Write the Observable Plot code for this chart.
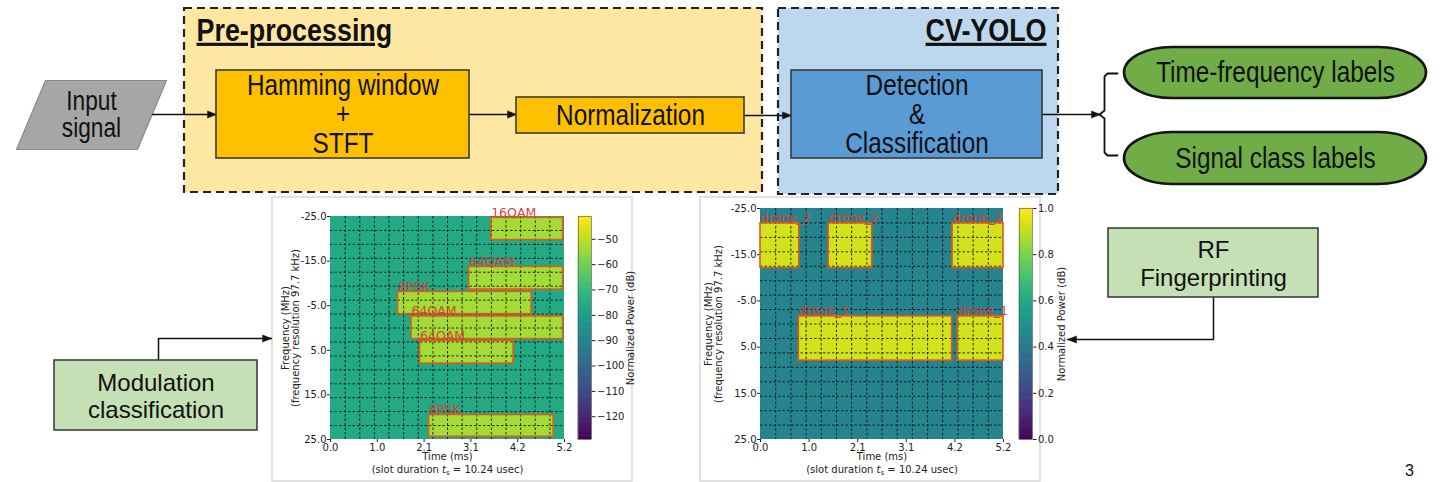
<!DOCTYPE html>
<html><head><meta charset="utf-8">
<script src="https://cdn.jsdelivr.net/npm/d3@7"></script>
<script src="https://cdn.jsdelivr.net/npm/@observablehq/plot@0.6"></script>
<style>
html,body{margin:0;padding:0;background:#fff;}
#root{position:relative;width:1440px;height:482px;overflow:hidden;background:#fff;}
#root>svg{position:absolute;}
</style></head><body><div id="root"></div>
<script>
// ================= DATA =================
// Block diagram text
const groupTitles = ["Pre-processing", "CV-YOLO"];
const inputLines = "Input\nsignal";
const stageNames = ["Hamming window\n+\nSTFT", "Normalization", "Detection\n&\nClassification"];
const outputNames = ["Time-frequency labels", "Signal class labels"];
const taskNames = ["Modulation\nclassification", "RF\nFingerprinting"];
const pageNumber = ["3"];

// Spectrogram axes (both panels)
const timeTickValues = [0, 1.04, 2.08, 3.12, 4.16, 5.2];
const timeTickLabels = ["0.0", "1.0", "2.1", "3.1", "4.2", "5.2"];
const freqTickValues = [-25, -15, -5, 5, 15, 25];
const freqTickLabels = ["-25.0", "-15.0", "-5.0", "5.0", "15.0", "25.0"];

// Left panel: modulation classification (dB)
const modLabels = ["16QAM", "64QAM", "8PSK", "64QAM", "64QAM", "8PSK"];
const modT0 = [3.57, 3.08, 1.50, 1.80, 1.99, 2.19];
const modT1 = [5.17, 5.17, 4.47, 5.17, 4.07, 4.96];
const modF0 = [-24.7, -13.7, -8.1, -2.6, 2.9, 19.5];
const modF1 = [-19.7, -8.6, -3.1, 2.5, 8.0, 24.4];
const modPowerDb = [-53, -53, -53, -53, -53, -53];
const modNoiseDb = [-76];
const modColorDomain = [-129, -41];
const modColorTicks = [-50, -60, -70, -80, -90, -100, -110, -120];

// Right panel: RF fingerprinting (normalized)
const droneLabels = ["drone_2", "drone_2", "drone_2", "drone_1", "drone_1"];
const droneT0 = [0.0, 1.46, 4.11, 0.82, 4.22];
const droneT1 = [0.83, 2.39, 5.2, 4.10, 5.2];
const droneF0 = [-21.8, -21.8, -21.8, -1.65, -1.65];
const droneF1 = [-12.1, -12.1, -12.1, 7.93, 7.93];
const dronePower = [0.93, 0.93, 0.93, 0.93, 0.93];
const droneNoise = [0.45];
const droneColorDomain = [0, 1];
const droneColorTicks = [0, 0.2, 0.4, 0.6, 0.8, 1.0];

// ================= LAYOUT (page pixels) =================
const root = document.getElementById("root");
function hasFont(name) {
  const c = document.createElement("canvas").getContext("2d");
  const s = "Hamming window mmmWWiil";
  c.font = "40px monospace"; const a = c.measureText(s).width;
  c.font = `40px '${name}', monospace`; return c.measureText(s).width !== a;
}
const narrow = hasFont("Liberation Sans Narrow");
const diagFont = narrow ? "Liberation Sans Narrow" : "Liberation Sans";
const squeeze = narrow ? 1 : 0.84;   // emulate a condensed face when Narrow is missing
const fsMain = 29;
const fsTitle = 32;

const groupGeom = [
  {x1: 184, x2: 762, y1: 8, y2: 192, fill: "#fee7a3"},
  {x1: 778, x2: 1058, y1: 8, y2: 194, fill: "#bdd7ee"}
];
const stageGeom = [
  {x1: 216, x2: 469, y1: 70, y2: 158, fill: "#ffc000"},
  {x1: 516, x2: 744, y1: 97, y2: 133, fill: "#ffc000"},
  {x1: 791, x2: 1042, y1: 70, y2: 158, fill: "#5b9bd5"}
];
const outputGeom = [
  {x1: 1124, x2: 1426, y1: 47, y2: 98},
  {x1: 1124, x2: 1426, y1: 132, y2: 184}
];
const taskGeom = [
  {x1: 54, x2: 257, y1: 360, y2: 430},
  {x1: 1108, x2: 1318, y1: 228, y2: 297}
];
const panelGeom = [
  {x1: 272, x2: 632, y1: 197, y2: 481},
  {x1: 700, x2: 1040, y1: 197, y2: 481}
];
const parallelogram = [[45, 80], [166, 80], [137, 149], [16, 149], [45, 80]].map(([x, y]) => ({x, y}));
const connectors = [
  [[152, 114], [216, 114]],
  [[469, 114], [516, 114]],
  [[744, 115], [791, 115]],
  [[1042, 114], [1100, 114]],
  [[158, 360], [158, 338], [271, 338]],
  [[1213, 297], [1213, 339], [1067, 339]]
];
const braceGeom = [[1117, 73], [1107, 73], [1104, 76], [1104, 110], [1099, 114], [1104, 118], [1104, 152], [1107, 155], [1117, 155]];

const connPts = connectors.flatMap((c, i) => c.map(([x, y]) => ({x, y, id: i})));
const heads = connectors.flatMap((c, i) => {
  const [px, py] = c[c.length - 2], [tx, ty] = c[c.length - 1];
  const len = Math.hypot(tx - px, ty - py), ux = (tx - px) / len, uy = (ty - py) / len;
  const L = 9, W = 3.6;
  const bx = tx - ux * L, by = ty - uy * L;
  return [[tx, ty], [bx - uy * W, by + ux * W], [bx + uy * W, by - ux * W], [tx, ty]].map(([x, y]) => ({x, y, id: i}));
});

const center = g => ({x: (g.x1 + g.x2) / 2, y: (g.y1 + g.y2) / 2});

const diagram = Plot.plot({
  width: 1440, height: 482, margin: 0,
  x: {domain: [0, 1440], axis: null},
  y: {domain: [0, 482], range: [0, 482], axis: null},
  style: {background: "transparent", fontFamily: diagFont, overflow: "visible"},
  marks: [
    Plot.rect(panelGeom, {x1: "x1", x2: "x2", y1: "y1", y2: "y2", fill: "white", stroke: "#d8d8d8", strokeWidth: 1.5}),
    Plot.rect(groupGeom, {x1: "x1", x2: "x2", y1: "y1", y2: "y2", fill: d => d.fill, stroke: "#222", strokeWidth: 2.2, strokeDasharray: "8,5"}),
    Plot.text([groupTitles[0]], {x: () => 196, y: () => 30, text: d => d, textAnchor: "start", fontWeight: "bold", fontSize: fsTitle, fill: "#111"}),
    Plot.text([groupTitles[1]], {x: () => 1046, y: () => 30, text: d => d, textAnchor: "end", fontWeight: "bold", fontSize: fsTitle, fill: "#111"}),
    Plot.line(parallelogram, {x: "x", y: "y", fill: "#a6a6a6", stroke: "#8a8a8a", strokeWidth: 1.2}),
    Plot.text([inputLines], {x: () => 91, y: () => 114, text: d => d, fontSize: 27, lineHeight: 1.0, fill: "#111"}),
    Plot.line(connPts, {x: "x", y: "y", z: "id", stroke: "#111", strokeWidth: 1.5}),
    Plot.line(heads, {x: "x", y: "y", z: "id", fill: "#111", stroke: "#111", strokeWidth: 0.5}),
    Plot.rect(stageGeom, {x1: "x1", x2: "x2", y1: "y1", y2: "y2", fill: d => d.fill, stroke: "#3a3a3a", strokeWidth: 1.6}),
    Plot.text(stageNames, {x: (d, i) => center(stageGeom[i]).x, y: (d, i) => center(stageGeom[i]).y, text: d => d, fontSize: fsMain, lineHeight: 1.0, fill: "#111"}),
    Plot.line(braceGeom.map(([x, y]) => ({x, y})), {x: "x", y: "y", stroke: "#111", strokeWidth: 1.8}),
    Plot.rect(outputGeom, {x1: "x1", x2: "x2", y1: "y1", y2: "y2", fill: "#70ad47", stroke: "#151515", strokeWidth: 2.6, rx: 48, ry: 26}),
    Plot.text(outputNames, {x: (d, i) => center(outputGeom[i]).x, y: (d, i) => center(outputGeom[i]).y, text: d => d, fontSize: fsMain, fill: "#111"}),
    Plot.rect(taskGeom, {x1: "x1", x2: "x2", y1: "y1", y2: "y2", fill: "#c5e0b4", stroke: "#333", strokeWidth: 1.5}),
    Plot.text(taskNames, {x: (d, i) => center(taskGeom[i]).x, y: (d, i) => center(taskGeom[i]).y, text: d => d, fontFamily: "Liberation Sans", fontSize: 24, lineHeight: 1.15, fill: "#111"}),
    Plot.text(pageNumber, {x: () => 1409, y: () => 470, text: d => d, fontFamily: "Liberation Sans", fontSize: 16, fill: "#111"})
  ]
});
diagram.style.left = "0px"; diagram.style.top = "0px";
const dsel = d3.select(diagram);
dsel.selectAll("text").filter(function () { return groupTitles.includes(this.textContent); })
  .attr("text-decoration", "underline");
root.appendChild(diagram);
// condensed look for the narrow-font labels (task boxes and page number keep their regular face)
if (squeeze !== 1) {
  dsel.selectAll("text").each(function () {
    if (this.closest("g[font-family]")) return;
    const tspans = this.querySelectorAll("tspan");
    const targets = tspans.length ? Array.from(tspans) : [this];
    const widths = targets.map(el => el.getComputedTextLength());
    targets.forEach((el, k) => {
      el.setAttribute("textLength", (widths[k] * squeeze).toFixed(2));
      el.setAttribute("lengthAdjust", "spacingAndGlyphs");
    });
  });
}

// ================= SPECTROGRAM PANELS =================
const gridT = d3.range(1, 16).map(i => i * 5.2 / 16);
const gridF = d3.range(1, 16).map(i => -25 + i * 50 / 16);

function spectrogram({left, top, width, ml, mr, mt, mb, labels, t0, t1, f0, f1, power, noise, colorDomain, ylabDx}) {
  const boxes = labels.map((label, i) => ({label, t0: t0[i], t1: t1[i], f0: f0[i], f1: f1[i], p: power[i]}));
  const svg = Plot.plot({
    width, height: 285, marginLeft: ml, marginRight: mr, marginTop: mt, marginBottom: mb,
    style: {background: "transparent", fontFamily: "DejaVu Sans", fontSize: "10px", color: "#222", overflow: "visible"},
    x: {domain: [0, 5.2], ticks: timeTickValues, tickFormat: d => timeTickLabels[timeTickValues.indexOf(d)], tickSize: 3, tickPadding: 1, label: null},
    y: {domain: [-25, 25], reverse: true, ticks: freqTickValues, tickFormat: d => freqTickLabels[freqTickValues.indexOf(d)], tickSize: 3, tickPadding: 1, label: null},
    color: {type: "linear", scheme: "viridis", domain: colorDomain},
    marks: [
      Plot.rect(noise, {x1: () => 0, x2: () => 5.2, y1: () => -25, y2: () => 25, fill: d => d}),
      Plot.rect(boxes, {x1: "t0", x2: "t1", y1: "f0", y2: "f1", fill: "p"}),
      Plot.ruleX(gridT, {stroke: "#111", strokeWidth: 1, strokeDasharray: "2.5,2", strokeOpacity: 0.85}),
      Plot.ruleY(gridF, {stroke: "#111", strokeWidth: 1, strokeDasharray: "2.5,2", strokeOpacity: 0.85}),
      Plot.rect(boxes, {x1: "t0", x2: "t1", y1: "f0", y2: "f1", fill: "none", stroke: "#dc5a1e", strokeWidth: 1.6}),
      Plot.text(boxes, {x: "t0", y: "f0", text: "label", textAnchor: "start", lineAnchor: "bottom", dy: -1, fill: "#d9403a", fontSize: 12.5}),
      Plot.text(["Time (ms)"], {frameAnchor: "bottom", textAnchor: "middle", dy: 20, text: d => d, fontSize: 10}),
      Plot.text(["(slot duration t_s = 10.24 usec)"], {frameAnchor: "bottom", textAnchor: "middle", dy: 33, text: d => d, fontSize: 10}),
      Plot.text(["Frequency (MHz)"], {frameAnchor: "left", textAnchor: "middle", dx: ylabDx[0], rotate: -90, text: d => d, fontSize: 10}),
      Plot.text(["(frequency resolution 97.7 kHz)"], {frameAnchor: "left", textAnchor: "middle", dx: ylabDx[1], rotate: -90, text: d => d, fontSize: 10})
    ]
  });
  d3.select(svg).selectAll("text").filter(function () { return this.textContent.startsWith("(slot duration"); })
    .each(function () {
      const t = d3.select(this); t.text(null);
      t.append("tspan").text("(slot duration ");
      t.append("tspan").attr("font-style", "italic").text("t");
      t.append("tspan").attr("font-size", "7").attr("dy", "2.5").text("s");
      t.append("tspan").attr("dy", "-2.5").text(" = 10.24 usec)");
    });
  svg.style.left = left + "px"; svg.style.top = top + "px";
  root.appendChild(svg);
}

function colorbar({left, top, mt, mb, mr, domain, ticks, fmt, labelDx}) {
  const n = 128;
  const ramp = d3.range(n).map(i => ({a: domain[0] + i * (domain[1] - domain[0]) / n, b: domain[0] + (i + 1) * (domain[1] - domain[0]) / n}));
  const svg = Plot.plot({
    width: 13 + mr, height: 285, marginLeft: 0, marginRight: mr, marginTop: mt, marginBottom: mb,
    style: {background: "transparent", fontFamily: "DejaVu Sans", fontSize: "10px", color: "#222", overflow: "visible"},
    x: {domain: [0, 1], axis: null},
    y: {domain, ticks, tickFormat: fmt, axis: "right", tickSize: 3.5, tickPadding: 2, label: null},
    color: {type: "linear", scheme: "viridis", domain},
    marks: [
      Plot.rect(ramp, {x1: () => 0, x2: () => 1, y1: "a", y2: "b", fill: d => (d.a + d.b) / 2, inset: -0.3}),
      Plot.frame({stroke: "#555", strokeWidth: 0.6}),
      Plot.text(["Normalized Power (dB)"], {frameAnchor: "right", textAnchor: "middle", dx: labelDx, rotate: -90, text: d => d, fontSize: 10})
    ]
  });
  svg.style.left = left + "px"; svg.style.top = top + "px";
  root.appendChild(svg);
}

spectrogram({left: 272, top: 197, width: 300, ml: 58, mr: 8, mt: 19, mb: 43,
  labels: modLabels, t0: modT0, t1: modT1, f0: modF0, f1: modF1, power: modPowerDb, noise: modNoiseDb,
  colorDomain: modColorDomain, ylabDx: [-45, -35]});
colorbar({left: 578, top: 197, mt: 19, mb: 43, mr: 48, domain: modColorDomain, ticks: modColorTicks,
  fmt: d => "\u2212" + Math.abs(d), labelDx: 39});

spectrogram({left: 700, top: 197, width: 311, ml: 60, mr: 8, mt: 11, mb: 43,
  labels: droneLabels, t0: droneT0, t1: droneT1, f0: droneF0, f1: droneF1, power: dronePower, noise: droneNoise,
  colorDomain: droneColorDomain, ylabDx: [-52, -42]});
colorbar({left: 1019, top: 197, mt: 11, mb: 43, mr: 36, domain: droneColorDomain, ticks: droneColorTicks,
  fmt: d => d.toFixed(1), labelDx: 29});
</script></body></html>
